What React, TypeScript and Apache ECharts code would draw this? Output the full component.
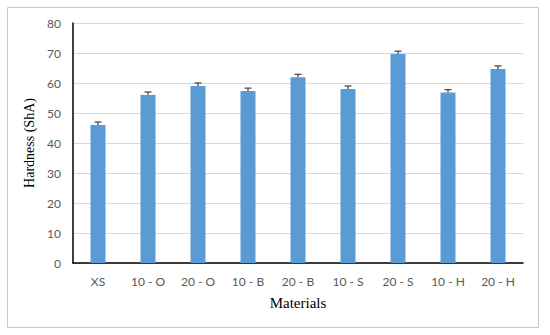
import React, { useEffect, useRef } from "react";
import * as echarts from "echarts";

const categories = ["XS", "10 - O", "20 - O", "10 - B", "20 - B", "10 - S", "20 - S", "10 - H", "20 - H"];
const hardness = [46, 56, 59, 57.3, 61.9, 58, 69.7, 56.8, 64.7];
const errors = [1, 1, 1, 1, 1, 1, 0.9, 1, 1];
const yTicks = { min: 0, max: 80, interval: 10 };

export default function App() {
  const ref = useRef<HTMLDivElement>(null);
  useEffect(() => {
    if (!ref.current) return;
    const chart = echarts.init(ref.current, null, { renderer: "svg" });
    const errData = hardness.map((v, i) => [i, v, v + errors[i]]);
    chart.setOption({
      animation: false,
      backgroundColor: "#ffffff",
      graphic: [
        {
          type: "rect",
          shape: { x: 7.5, y: 7.5, width: 531, height: 320 },
          style: { fill: "none", stroke: "#c8c8c8", lineWidth: 1 },
          silent: true,
        },
      ],
      grid: { left: 73, right: 27, top: 23, bottom: 72, containLabel: false },
      xAxis: {
        type: "category",
        data: categories,
        name: "Materials",
        nameLocation: "middle",
        nameGap: 32,
        nameTextStyle: { fontFamily: "Liberation Serif", fontSize: 15, color: "#000" },
        axisLine: { show: true, lineStyle: { color: "#000", width: 1.5 } },
        axisTick: { show: false },
        axisLabel: { fontFamily: "Lato", fontSize: 12, color: "#595959", margin: 12 },
      },
      yAxis: {
        type: "value",
        min: yTicks.min,
        max: yTicks.max,
        interval: yTicks.interval,
        name: "Hardness (ShA)",
        nameLocation: "middle",
        nameGap: 34,
        nameRotate: 90,
        nameTextStyle: { fontFamily: "Liberation Serif", fontSize: 14, color: "#000" },
        axisLine: { show: true, lineStyle: { color: "#000", width: 1.5 } },
        axisTick: { show: false },
        axisLabel: { fontFamily: "Lato", fontSize: 12, color: "#595959", margin: 12 },
        splitLine: { lineStyle: { color: "#d9d9d9", width: 1 } },
      },
      series: [
        {
          type: "bar",
          data: hardness,
          barWidth: 15,
          itemStyle: { color: "#5b9bd5" },
          z: 2,
        },
        {
          type: "custom",
          data: errData,
          z: 3,
          renderItem: (params: any, api: any) => {
            const x = api.value(0);
            const lo = api.coord([x, api.value(1)]);
            const hi = api.coord([x, api.value(2)]);
            const half = 3.5;
            const style = { stroke: "#404040", lineWidth: 1.2 };
            return {
              type: "group",
              children: [
                { type: "line", shape: { x1: lo[0], y1: lo[1], x2: hi[0], y2: hi[1] }, style },
                { type: "line", shape: { x1: hi[0] - half, y1: hi[1], x2: hi[0] + half, y2: hi[1] }, style },
              ],
            };
          },
        },
      ],
    });
    return () => chart.dispose();
  }, []);
  return (
    <div
      ref={ref}
      style={{ position: "fixed", left: 0, top: 0, width: 550, height: 335 }}
    />
  );
}
